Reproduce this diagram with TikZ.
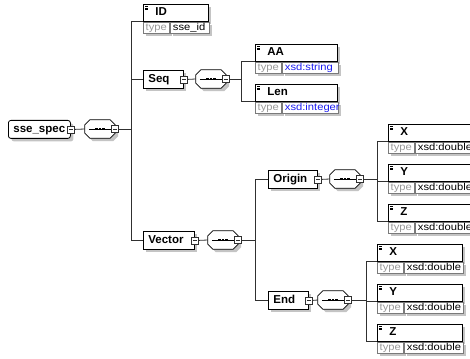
\documentclass[tikz,border=0pt]{standalone}
\usepackage{fontspec}
\setmainfont{Liberation Sans}
\newfontfamily\tyf[FakeStretch=1.12]{Liberation Sans}
\usetikzlibrary{shadows}
\definecolor{shdc}{HTML}{C4C4C4}
\definecolor{tgray}{HTML}{9A9A9A}
\definecolor{tborder}{HTML}{7A7A7A}
\definecolor{xblue}{HTML}{1E1EF0}
\definecolor{lnc}{HTML}{303030}
\begin{document}
\begin{tikzpicture}[x=1pt,y=-1pt,
  shd/.style={drop shadow={shadow xshift=3pt,shadow yshift=-3pt,fill=shdc,draw=none,opacity=1}},
  ebox/.style={draw=black,fill=white,line width=0.8pt,anchor=north west,inner xsep=0pt,inner ysep=0pt,
    text width=#1,align=left,minimum height=18pt,text height=8.5pt,text depth=2.5pt,
    font=\bfseries\fontsize{11.5}{12}\selectfont,execute at begin node={\hspace*{5pt}},shd},
  nbox/.style={ebox=#1,minimum height=17pt,execute at begin node={\hspace*{7pt}}},
  tlab/.style={draw=tborder,fill=white,line width=0.6pt,anchor=north west,inner sep=0pt,
    minimum width=26pt,minimum height=11pt,text height=7pt,text depth=2pt,
    font=\tyf\fontsize{10}{10}\selectfont,text=tgray,shd},
  tval/.style={draw=tborder,fill=white,line width=0.6pt,anchor=north west,inner xsep=0pt,inner ysep=0pt,
    text width=#1,align=left,minimum height=11pt,text height=7pt,text depth=2pt,
    font=\tyf\fontsize{10}{10}\selectfont,execute at begin node={\hspace*{3pt}},shd},
  mns/.style={draw=lnc,fill=white,line width=0.6pt,inner sep=0pt,minimum size=7pt,
    path picture={\draw[line width=0.6pt] ([xshift=1.5pt]path picture bounding box.west) -- ([xshift=-1.5pt]path picture bounding box.east);}},
  seqc/.style={rectangle,draw=none,inner sep=0pt,minimum width=30pt,minimum height=18pt},
  octo/.style={draw=black,fill=white,line width=0.8pt},
  conn/.style={draw=lnc,line width=0.8pt}
]
\clip (0,0) rectangle (470,358);
\fill[white] (0,0) rectangle (470,358);
\coordinate (b1) at (131,0);
\coordinate (b2) at (241,0);
\coordinate (b3) at (255,0);
\coordinate (b4) at (377,0);
\coordinate (b5) at (366,0);

% root
\node[ebox=62pt,rounded corners=2.5pt] (root) at (8,120) {sse\_spec};
\node[seqc] (c0) at (100,129) {};

% ID
\node[nbox=65pt] (ID) at (143,4) {ID};
\node[tlab] (IDt) at (ID.south west) {type};
\node[tval=39pt] (IDv) at (IDt.north east) {sse\_id};

% Seq
\node[ebox=40pt] (Seq) at (143,70) {Seq};
\node[seqc] (c1) at (211,79) {};
\node[nbox=82pt] (AA) at (255,44) {AA};
\node[tlab] (AAt) at (AA.south west) {type};
\node[tval=56pt,text=xblue] (AAv) at (AAt.north east) {xsd:string};
\node[nbox=82pt] (Len) at (255,84) {Len};
\node[tlab] (Lent) at (Len.south west) {type};
\node[tval=56pt,text=xblue] (Lenv) at (Lent.north east) {xsd:integer};

% Vector
\node[ebox=51pt] (Vector) at (143,231) {Vector};
\node[seqc] (c2) at (223,240) {};
\node[ebox=49pt] (Origin) at (268,170) {Origin};
\node[seqc] (c3) at (345,179) {};
\node[ebox=40pt] (End) at (268,291) {End};
\node[seqc] (c4) at (333,300) {};

\node[nbox=85pt] (OX) at (388,124) {X};
\node[tlab] (OXt) at (OX.south west) {type};
\node[tval=59pt] (OXv) at (OXt.north east) {xsd:double};
\node[nbox=85pt] (OY) at (388,164) {Y};
\node[tlab] (OYt) at (OY.south west) {type};
\node[tval=59pt] (OYv) at (OYt.north east) {xsd:double};
\node[nbox=85pt] (OZ) at (388,204) {Z};
\node[tlab] (OZt) at (OZ.south west) {type};
\node[tval=59pt] (OZv) at (OZt.north east) {xsd:double};

\node[nbox=85pt] (EX) at (377,244) {X};
\node[tlab] (EXt) at (EX.south west) {type};
\node[tval=59pt] (EXv) at (EXt.north east) {xsd:double};
\node[nbox=85pt] (EY) at (377,284) {Y};
\node[tlab] (EYt) at (EY.south west) {type};
\node[tval=59pt] (EYv) at (EYt.north east) {xsd:double};
\node[nbox=85pt] (EZ) at (377,324) {Z};
\node[tlab] (EZt) at (EZ.south west) {type};
\node[tval=59pt] (EZv) at (EZt.north east) {xsd:double};

% sequence compositors
\foreach \n in {c0,c1,c2,c3,c4} {
  \fill[shdc] ([shift={(8,3)}]\n.north west) -- ([shift={(-2,3)}]\n.north east) -- ([shift={(3,8)}]\n.north east)
     -- ([shift={(3,-2)}]\n.south east) -- ([shift={(-2,3)}]\n.south east) -- ([shift={(8,3)}]\n.south west)
     -- ([shift={(3,-2)}]\n.south west) -- ([shift={(3,8)}]\n.north west) -- cycle;
  \draw[octo] ([shift={(5,0)}]\n.north west) -- ([shift={(-5,0)}]\n.north east) -- ([shift={(0,5)}]\n.north east)
     -- ([shift={(0,-5)}]\n.south east) -- ([shift={(-5,0)}]\n.south east) -- ([shift={(5,0)}]\n.south west)
     -- ([shift={(0,-5)}]\n.south west) -- ([shift={(0,5)}]\n.north west) -- cycle;
  \draw[line width=0.5pt] ([shift={(4,0)}]\n.west) -- ([shift={(-4,0)}]\n.east);
  \foreach \dx in {-3.5,0,3.5} {\fill ([shift={(\dx-1.3,-1.3)}]\n.center) rectangle ++(2.6,2.6);}
}

% minus boxes
\node[mns] (rootm) at (root.east) {};
\node[mns] (c0m) at (c0.east) {};
\node[mns] (Seqm) at (Seq.east) {};
\node[mns] (c1m) at (c1.east) {};
\node[mns] (Vecm) at (Vector.east) {};
\node[mns] (c2m) at (c2.east) {};
\node[mns] (Om) at (Origin.east) {};
\node[mns] (c3m) at (c3.east) {};
\node[mns] (Em) at (End.east) {};
\node[mns] (c4m) at (c4.east) {};

% element icons
\foreach \n in {ID,AA,Len,OX,OY,OZ,EX,EY,EZ} {
  \foreach \d in {2.5,4,5.5} {\draw[line width=0.4pt] ([shift={(2,\d)}]\n.north west) -- ++(3,0);}
}

% connectors
\draw[conn] (rootm.east) -- (c0.west);
\draw[conn] (c0m.east) -- (b1 |- c0m.east);
\draw[conn] (ID.south west) -- (b1 |- ID.south west) -- (b1 |- Vector.west) -- (Vector.west);
\draw[conn] (b1 |- Seq.west) -- (Seq.west);
\draw[conn] (Seqm.east) -- (c1.west);
\draw[conn] (c1m.east) -- (b2 |- c1m.east);
\draw[conn] (AA.south west) -- (b2 |- AA.south west) -- (b2 |- Len.south west) -- (Len.south west);
\draw[conn] (Vecm.east) -- (c2.west);
\draw[conn] (c2m.east) -- (b3 |- c2m.east);
\draw[conn] (Origin.west) -- (b3 |- Origin.west) -- (b3 |- End.west) -- (End.west);
\draw[conn] (Om.east) -- (c3.west);
\draw[conn] (c3m.east) -- (b4 |- c3m.east);
\draw[conn] (OX.south west) -- (b4 |- OX.south west) -- (b4 |- OZ.south west) -- (OZ.south west);
\draw[conn] (b4 |- OY.south west) -- (OY.south west);
\draw[conn] (Em.east) -- (c4.west);
\draw[conn] (c4m.east) -- (b5 |- c4m.east);
\draw[conn] (EX.south west) -- (b5 |- EX.south west) -- (b5 |- EZ.south west) -- (EZ.south west);
\draw[conn] (b5 |- EY.south west) -- (EY.south west);
\end{tikzpicture}
\end{document}
